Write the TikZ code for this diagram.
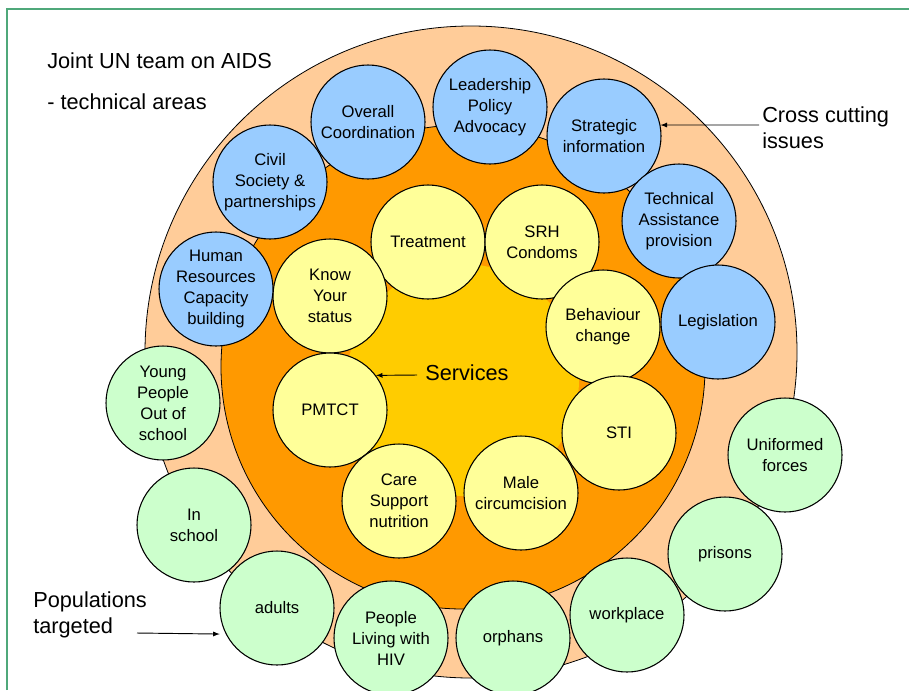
\documentclass[tikz,border=0pt]{standalone}
\usepackage{fontspec}
\setmainfont{Liberation Sans}
\definecolor{peach}{HTML}{FFCC99}
\definecolor{ringorange}{HTML}{FF9900}
\definecolor{coregold}{HTML}{FFCC00}
\definecolor{serviceyellow}{HTML}{FFFF99}
\definecolor{issueblue}{HTML}{99CCFF}
\definecolor{popgreen}{HTML}{CCFFCC}
\definecolor{framegreen}{HTML}{4FA87A}
\begin{document}
\begin{tikzpicture}[x=0.75pt,y=-0.75pt,>=latex,
				main node/.style = {circle,draw,line width=0.8pt,inner sep=0pt,minimum size=85.5pt,
					align=center,font=\fontsize{12.5}{15.75}\selectfont},
				blue node/.style = {main node,fill=issueblue},
				yellow node/.style = {main node,fill=serviceyellow},
				green node/.style = {main node,fill=popgreen},
				big text/.style = {inner sep=0pt,align=left,anchor=base west,font=\fontsize{16.3}{19.5}\selectfont}]
				\useasboundingbox (0,0) rectangle (909,690);
				\draw[framegreen,line width=1.2pt] (7,690) -- (7,9) -- (909,9);
				
				\draw[fill=peach,line width=0.6pt] (471,352) circle [radius=244.5pt];
				\draw[fill=ringorange,line width=0.6pt] (463,367) circle [radius=181.5pt];
				\fill[coregold] (463,380) circle [radius=87pt];
				
				\node[yellow node] (y1) at (428,242) {Treatment};
				\node[yellow node] (y2) at (542,242) {SRH\\Condoms};
				\node[yellow node] (y3) at (330,296) {Know\\Your\\status};
				\node[yellow node] (y4) at (603,327) {Behaviour\\change};
				\node[yellow node] (y5) at (330,410) {PMTCT};
				\node[yellow node] (y6) at (619,433) {STI};
				\node[yellow node] (y7) at (399,501) {Care\\Support\\nutrition};
				\node[yellow node] (y8) at (521,493) {Male\\circumcision};
				
				\node[blue node] (b1) at (368,122) {Overall\\Coordination};
				\node[blue node] (b2) at (490,107) {Leadership\\Policy\\Advocacy};
				\node[blue node] (b3) at (604,136) {Strategic\\information};
				\node[blue node] (b4) at (679,221) {Technical\\Assistance\\provision};
				\node[blue node] (b5) at (718,322) {Legislation};
				\node[blue node] (b6) at (270,182) {Civil\\Society \&\\partnerships};
				\node[blue node] (b7) at (216,289) {Human\\Resources\\Capacity\\building};
				
				\node[green node] (g1) at (163,403) {Young\\People\\Out of\\school};
				\node[green node] (g2) at (194,525) {In\\school};
				\node[green node] (g3) at (277,608) {adults};
				\node[green node] (g4) at (391,638) {People\\Living with\\HIV};
				\node[green node] (g5) at (513,638) {orphans};
				\node[green node] (g6) at (627,615) {workplace};
				\node[green node] (g7) at (725,554) {prisons};
				\node[green node] (g8) at (785,455) {Uniformed\\forces};
				
				\node[big text] (t1) at (47,68) {Joint UN team on AIDS};
				\node[big text] (t2) at (47,109) {- technical areas};
				\node[big text] (t3) at (762,148) {Cross cutting\\issues};
				\node[big text] (t4) at (425,380) {Services};
				\node[big text] (t5) at (33,633) {Populations\\targeted};
				
				\coordinate (c1) at (759,125);
				\coordinate (c2) at (417,375);
				\coordinate (c3) at (137,633);
				\path[->,line width=0.7pt,shorten >=0pt]
				(c1) edge (b3.11)
				(c2) edge (y5.37)
				(c3) edge[shorten >=4.5pt] (g3.207);
				\end{tikzpicture}
\end{document}
